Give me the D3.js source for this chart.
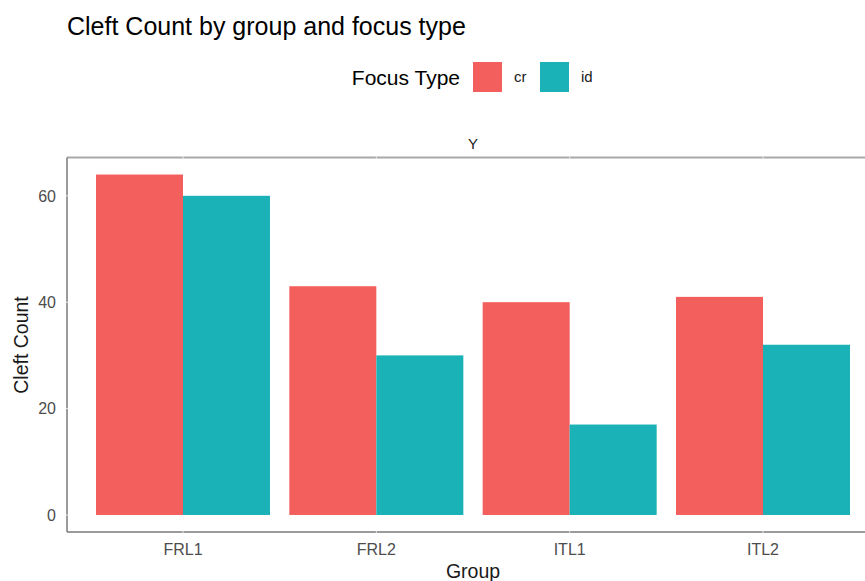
<!DOCTYPE html>
<html><head><meta charset="utf-8">
<script src="https://cdn.jsdelivr.net/npm/d3@7"></script>
<style>body{margin:0;background:#fff}svg{display:block;font-family:"Liberation Sans",Arial,sans-serif}</style>
</head><body><svg id="c" width="865" height="581"></svg>
<script>
const groups = ["FRL1","FRL2","ITL1","ITL2"];
const focusTypes = ["cr","id"];
const crValues = [64,43,40,41];
const idValues = [60,30,17,32];
const yTicks = [0,20,40,60];
const fillColors = ["#F25F5C","#1AB2B7"];

const svg = d3.select("#c");
const panel = {left:67, top:157.5, right:879, bottom:532};

// discrete x scale with ggplot-style 0.6 unit expansion
const x = d3.scalePoint().domain(groups)
  .range([panel.left, panel.right]).padding(0.6);
const unit = x.step();
const barW = unit*0.9;
const sub = d3.scaleBand().domain(focusTypes).range([-barW/2, barW/2]);

const maxV = d3.max([...crValues, ...idValues]);
const y = d3.scaleLinear().domain([-maxV*0.05, maxV*1.05]).range([panel.bottom, panel.top]);

const data = [];
groups.forEach((g,i)=>{
  data.push({g, t:"cr", v:crValues[i]});
  data.push({g, t:"id", v:idValues[i]});
});

svg.append("g").selectAll("rect").data(data).join("rect")
  .attr("x", d=>x(d.g)+sub(d.t))
  .attr("width", sub.bandwidth())
  .attr("y", d=>y(d.v))
  .attr("height", d=>y(0)-y(d.v))
  .attr("fill", d=>fillColors[focusTypes.indexOf(d.t)]);

// top border (strip)
svg.append("line").attr("x1",panel.left).attr("x2",panel.right).attr("y1",panel.top).attr("y2",panel.top)
  .attr("stroke","#a8a8a8").attr("stroke-width",2);
// axes lines
svg.append("line").attr("x1",panel.left).attr("x2",panel.left).attr("y1",panel.top).attr("y2",panel.bottom)
  .attr("stroke","#7a7a7a").attr("stroke-width",1.5);
svg.append("line").attr("x1",panel.left).attr("x2",panel.right).attr("y1",panel.bottom).attr("y2",panel.bottom)
  .attr("stroke","#7a7a7a").attr("stroke-width",1.5);

// ticks (light)
groups.forEach(g=>{
  svg.append("line").attr("x1",x(g)).attr("x2",x(g)).attr("y1",panel.bottom-1).attr("y2",panel.bottom+1)
    .attr("stroke","#e6e6e6").attr("stroke-width",1);
  svg.append("line").attr("x1",x(g)).attr("x2",x(g)).attr("y1",panel.top-1).attr("y2",panel.top+1)
    .attr("stroke","#f0f0f0").attr("stroke-width",1);
});
yTicks.forEach(t=>{
  svg.append("line").attr("x1",panel.left-1).attr("x2",panel.left+1).attr("y1",y(t)).attr("y2",y(t))
    .attr("stroke","#e6e6e6").attr("stroke-width",1);
});

// tick labels
svg.append("g").selectAll("text").data(yTicks).join("text")
  .attr("x", panel.left-11).attr("y", d=>y(d)).attr("dy","0.36em")
  .attr("text-anchor","end").attr("font-size",16).attr("fill","#4d4d4d").text(d=>d);
svg.append("g").selectAll("text").data(groups).join("text")
  .attr("x", d=>x(d)).attr("y", 555)
  .attr("text-anchor","middle").attr("font-size",16).attr("fill","#4d4d4d").text(d=>d);

// axis titles
svg.append("text").attr("x",473).attr("y",578).attr("text-anchor","middle").attr("font-size",19.5).attr("fill","#1a1a1a").text("Group");
svg.append("text").attr("transform","translate(28,345) rotate(-90)").attr("text-anchor","middle").attr("font-size",19.5).attr("fill","#1a1a1a").text("Cleft Count");

// strip
svg.append("text").attr("x",473).attr("y",149).attr("text-anchor","middle").attr("font-size",15).attr("fill","#1a1a1a").text("Y");

// title
svg.append("text").attr("x",67).attr("y",35).attr("font-size",25).attr("fill","#000").text("Cleft Count by group and focus type");

// legend
svg.append("text").attr("x",460).attr("y",85).attr("text-anchor","end").attr("font-size",21).attr("fill","#000").text("Focus Type");
const legX = [473, 540];
focusTypes.forEach((t,i)=>{
  svg.append("rect").attr("x",legX[i]).attr("y",62).attr("width",29).attr("height",30).attr("fill",fillColors[i]);
  svg.append("text").attr("x",legX[i]+41).attr("y",82).attr("font-size",15).attr("fill","#1a1a1a").text(t);
});
</script></body></html>
